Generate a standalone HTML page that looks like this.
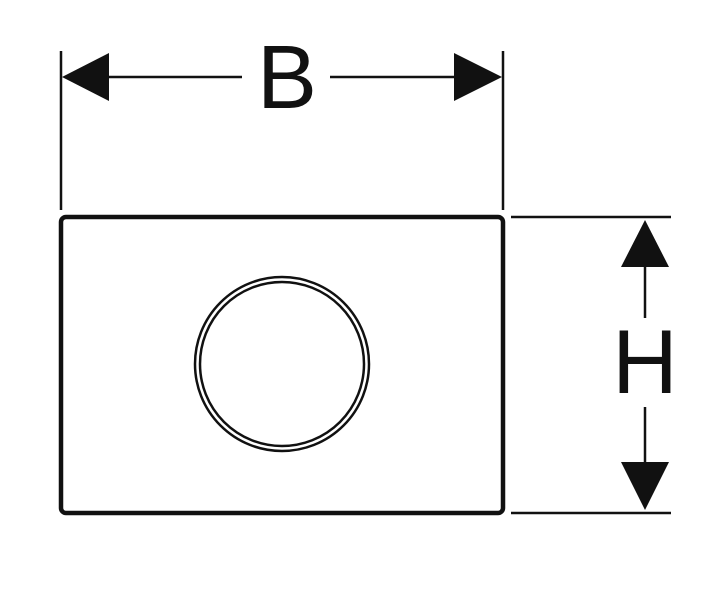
<!DOCTYPE html>
<html><head><meta charset="utf-8"><style>
html,body{margin:0;padding:0;background:#fff;}
svg{display:block;}
</style></head><body>
<svg width="703" height="600" viewBox="0 0 703 600" xmlns="http://www.w3.org/2000/svg">
<rect width="703" height="600" fill="#fff"/>
<g stroke="#111" fill="none">
<line x1="61" y1="51" x2="61" y2="210" stroke-width="2.5"/>
<line x1="503" y1="51" x2="503" y2="210" stroke-width="2.5"/>
<line x1="108" y1="77" x2="242" y2="77" stroke-width="2.5"/>
<line x1="330" y1="77" x2="455" y2="77" stroke-width="2.5"/>
<line x1="511" y1="217" x2="671" y2="217" stroke-width="2.5"/>
<line x1="511" y1="513" x2="671" y2="513" stroke-width="2.5"/>
<line x1="645" y1="266" x2="645" y2="318" stroke-width="2.5"/>
<line x1="645" y1="407" x2="645" y2="463" stroke-width="2.5"/>
<rect x="61" y="217" width="442" height="296" rx="5" stroke-width="4.5"/>
<circle cx="282" cy="364" r="87" stroke-width="2.5"/>
<circle cx="282" cy="364" r="82" stroke-width="2.5"/>
</g>
<g fill="#111">
<polygon points="62,77 109,53 109,101"/>
<polygon points="502,77 454,53 454,101"/>
<polygon points="645,220 621,267 669,267"/>
<polygon points="645,510 621,462 669,462"/>
</g>
<text x="287" y="108" font-family="Liberation Sans, sans-serif" font-size="90" text-anchor="middle" fill="#111">B</text>
<text x="645" y="393" font-family="Liberation Sans, sans-serif" font-size="91" text-anchor="middle" fill="#111">H</text>
</svg>
</body></html>
